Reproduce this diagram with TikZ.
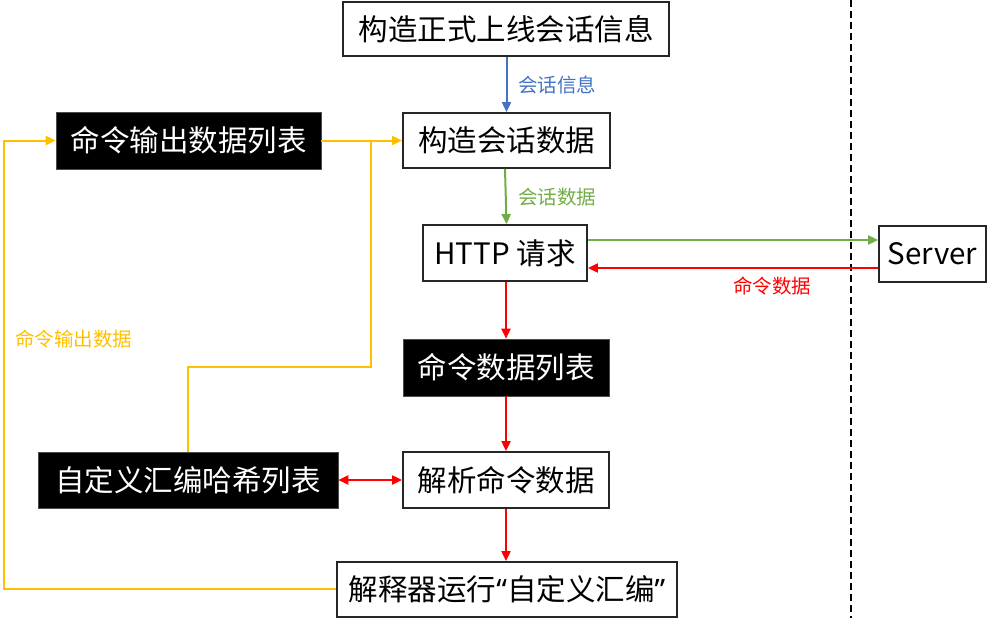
\documentclass[tikz,border=0pt]{standalone}
\usepackage{fontspec}
\setmainfont{Noto Sans CJK SC}
\newfontfamily\latinq{Noto Sans}
\usetikzlibrary{arrows.meta}
\definecolor{cblue}{HTML}{4472C4}
\definecolor{cgreen}{HTML}{70AD47}
\definecolor{cyellow}{HTML}{FFC000}
\definecolor{cred}{HTML}{FF0000}
\begin{document}
\begin{tikzpicture}[x=1pt,y=-1pt,
  wbox/.style={draw=black!85, line width=1.8pt, fill=white, inner sep=0pt, font=\fontsize{29.5}{33}\selectfont, text=black},
  bbox/.style={fill=black, draw=black!70, line width=0.6pt, inner sep=0pt, font=\fontsize{29.5}{33}\selectfont, text=white},
  lbl/.style={font=\fontsize{19.5}{22}\selectfont, inner sep=0pt},
  arr/.style={line width=2pt, -{Triangle[length=10pt,width=9pt]}},
  darr/.style={line width=2pt, {Triangle[length=10pt,width=9pt]}-{Triangle[length=10pt,width=9pt]}}]
\useasboundingbox (0,0) rectangle (987,618);
% dashed separator
\coordinate (dt) at (851,0);
\coordinate (db) at (851,618);
\draw[dash pattern=on 7pt off 4pt, line width=1.1pt] (dt) -- (db);
% nodes
\node[wbox, minimum width=326pt, minimum height=54pt] (top) at (506,29) {构造正式上线会话信息};
\node[wbox, minimum width=207pt, minimum height=55pt] (build) at (506.5,140.5) {构造会话数据};
\node[bbox, minimum width=265pt, minimum height=57pt] (outlist) at (188.5,140.5) {命令输出数据列表};
\node[wbox, minimum width=164pt, minimum height=56pt] (http) at (505,253) {HTTP 请求};
\node[wbox, minimum width=107pt, minimum height=56pt] (server) at (932.5,254) {Server};
\node[bbox, minimum width=206pt, minimum height=57pt] (cmdlist) at (506,367.5) {命令数据列表};
\node[bbox, minimum width=300pt, minimum height=56pt] (hash) at (188,480) {自定义汇编哈希列表};
\node[wbox, minimum width=206pt, minimum height=56pt] (parse) at (506,480) {解析命令数据};
\node[wbox, minimum width=340pt, minimum height=55pt] (run) at (507,589.5) {解释器运行{\latinq “}自定义汇编{\latinq ”}};
% blue / green
\draw[arr, cblue] (top.south -| build.north) -- (build.north);
\node[lbl, text=cblue, anchor=west] (l1) at (518,85) {会话信息};
\draw[arr, cgreen] (build.south -| http.north) -- (http.north -| build.south);
\node[lbl, text=cgreen, anchor=west] (l2) at (518,197) {会话数据};
\coordinate (gy) at (0,240);
\coordinate (ry) at (0,268);
\draw[arr, cgreen] (http.east |- gy) -- (server.west |- gy);
\draw[arr, cred] (server.west |- ry) -- (http.east |- ry);
\node[lbl, text=cred] (l3) at (772,286) {命令数据};
% red chain
\draw[arr, cred] (http.south -| cmdlist.north) -- (cmdlist.north);
\draw[arr, cred] (cmdlist.south) -- (parse.north);
\draw[arr, cred] (parse.south) -- (parse.south |- run.north);
\draw[darr, cred] (hash.east) -- (parse.west);
% yellow loop
\coordinate (ybl) at (4,589);
\coordinate (ytl) at (4,140.5);
\coordinate (j1) at (371,140.5);
\coordinate (j2) at (371,367);
\coordinate (j3) at (188,367);
\draw[arr, cyellow] (run.west |- ybl) -- (ybl) -- (ytl) -- (outlist.west);
\draw[arr, cyellow] (outlist.east) -- (build.west);
\draw[line width=2pt, cyellow] (hash.north) -- (j3) -- (j2) -- (j1);
\node[lbl, text=cyellow, anchor=west] (l4) at (15,339) {命令输出数据};
\end{tikzpicture}
\end{document}
